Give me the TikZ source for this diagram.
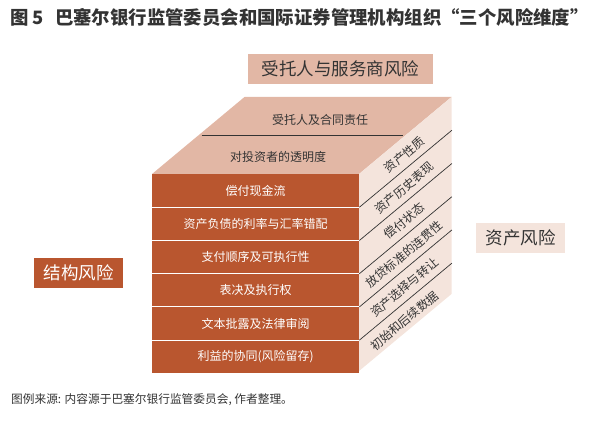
\documentclass[tikz,border=0pt]{standalone}
\usepackage{fontspec}
\setmainfont{Noto Sans CJK SC}
\usepackage{xcolor}
\usetikzlibrary{positioning}
\definecolor{rust}{HTML}{B9562F}
\definecolor{sand}{HTML}{E2B7A5}
\definecolor{blush}{HTML}{F4E4DC}
\definecolor{ink}{HTML}{333333}

\begin{document}
\begin{tikzpicture}[
  x=1pt, y=-1pt,
  band/.style={
    fill=rust,
    text=white,
    minimum width=207pt,
    minimum height=32.83pt,
    inner sep=0pt,
    font=\fontsize{12}{14}\selectfont
  },
  sideText/.style={
    rotate=39.8,
    text=ink,
    inner sep=0pt,
    font=\fontsize{12}{14}\selectfont
  },
  topText/.style={
    text=ink,
    inner sep=0pt,
    font=\fontsize{12}{14}\selectfont
  },
  riskLabel/.style={
    minimum height=30pt,
    inner sep=0pt,
    font=\fontsize{17.5}{20}\selectfont
  },
  faceLine/.style={draw=ink, line width=0.7pt},
  sepLine/.style={draw=white, line width=1pt}
]
\useasboundingbox (0,0) rectangle (603,425);

% cube corners
\coordinate (fTL) at (152,174);
\coordinate (fTR) at (359,174);
\coordinate (fBR) at (359,371);
\coordinate (bTL) at (244.5,97);
\coordinate (bTR) at (451.5,97);
\coordinate (bBR) at (451.5,294);

% top and side faces
\fill[sand] (fTL) -- (fTR) -- (bTR) -- (bTL) -- cycle;
\fill[blush] (fTR) -- (bTR) -- (bBR) -- (fBR) -- cycle;
\draw[faceLine] ([shift={(49.5,-39)}]fTL) -- ([shift={(44,-39)}]fTR);

% front bands
\node[band, anchor=north west] (b1) at (fTL) {偿付现金流};
\node[band, below=0pt of b1] (b2) {资产负债的利率与汇率错配};
\node[band, below=0pt of b2] (b3) {支付顺序及可执行性};
\node[band, below=0pt of b3] (b4) {表决及执行权};
\node[band, below=0pt of b4] (b5) {文本批露及法律审阅};
\node[band, below=0pt of b5] (b6) {利益的协同(风险留存)};

\draw[sepLine] (b1.south west) -- (b1.south east);
\draw[sepLine] (b2.south west) -- (b2.south east);
\draw[sepLine] (b3.south west) -- (b3.south east);
\draw[sepLine] (b4.south west) -- (b4.south east);
\draw[sepLine] (b5.south west) -- (b5.south east);

% side face rows
\draw[faceLine] (b1.south east) -- ++(92.5,-77);
\draw[faceLine] (b2.south east) -- ++(92.5,-77);
\draw[faceLine] (b3.south east) -- ++(92.5,-77);
\draw[faceLine] (b4.south east) -- ++(92.5,-77);
\draw[faceLine] (b5.south east) -- ++(92.5,-77);

\node[sideText] (s1) at ([shift={(45,-36)}]b1.east) {资产性质};
\node[sideText] (s2) at ([shift={(45,-36)}]b2.east) {资产历史表现};
\node[sideText] (s3) at ([shift={(45,-36)}]b3.east) {偿付状态};
\node[sideText] (s4) at ([shift={(45,-36)}]b4.east) {放贷标准的连贯性};
\node[sideText] (s5) at ([shift={(45,-36)}]b5.east) {资产选择与转让};
\node[sideText] (s6) at ([shift={(45,-36)}]b6.east) {初始和后续数据};

% top face rows
\node[topText] (t1) at (320,120) {受托人及合同责任};
\node[topText] (t2) at (278,157) {对投资者的透明度};

% risk labels
\node[riskLabel, fill=sand, text=ink, minimum width=185pt] (trustee) at (340.5,69) {受托人与服务商风险};
\node[riskLabel, fill=rust, text=white, minimum width=89pt] (structure) at (78.5,273) {结构风险};
\node[riskLabel, fill=blush, text=ink, minimum width=89pt] (asset) at (520.5,238) {资产风险};

% title and source
\node[anchor=west, text=ink, inner sep=0pt, font=\fontsize{18.4}{20}\selectfont\bfseries] (title) at (10,17) {图 5\hspace{0.6em}巴塞尔银行监管委员会和国际证券管理机构组织“三个风险维度”};
\node[anchor=west, text=ink, inner sep=0pt, font=\fontsize{11.7}{13}\selectfont] (source) at (11,400) {图例来源: 内容源于巴塞尔银行监管委员会, 作者整理。};
\end{tikzpicture}
\end{document}
